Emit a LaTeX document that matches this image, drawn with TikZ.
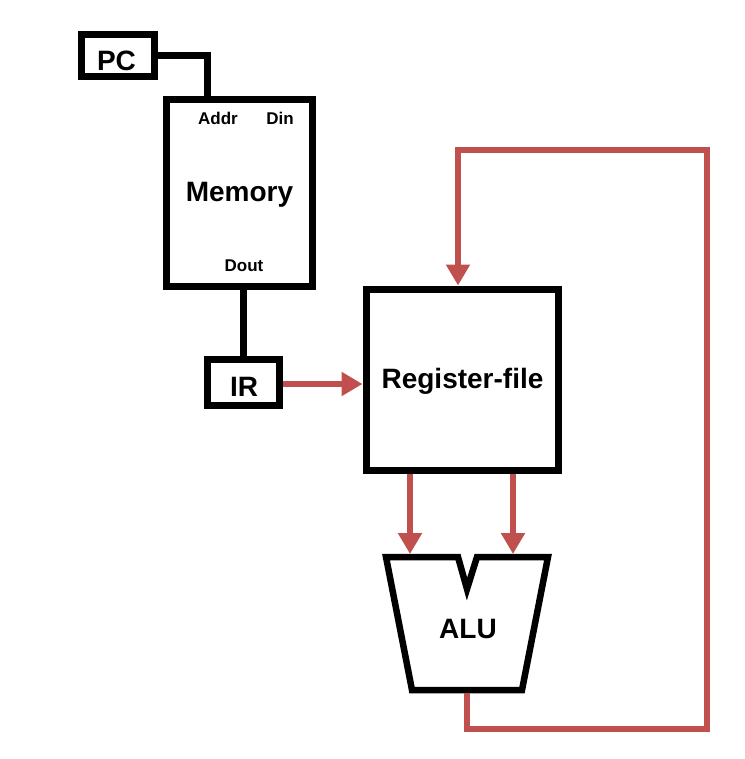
\documentclass[tikz,border=0pt]{standalone}
\usepackage{fontspec}
\setmainfont{Liberation Sans}
\usetikzlibrary{arrows.meta,calc}
\definecolor{rd}{HTML}{C0504D}
\begin{document}
\begin{tikzpicture}[x=1pt,y=-1pt,
  blk/.style={line width=7pt,draw=black},
  box/.style={draw=black,line width=7pt,inner sep=0pt,fill=white},
  big/.style={inner sep=0pt,text height=20pt,text depth=0pt,font=\bfseries\fontsize{28}{30}\selectfont},
  lbl/.style={inner sep=0pt,text height=12.2pt,text depth=0pt,font=\bfseries\fontsize{17}{19}\selectfont},
  rdl/.style={line width=6.5pt,draw=rd},
  rda/.style={rdl,-{Triangle[length=21pt,width=23pt]}},
]
\useasboundingbox (0,0) rectangle (744,759);

% boxes
\node[box,minimum width=73pt,minimum height=42pt] (PC) at (117.5,56) {};
\node[big] (pct) at (116.5,60.5) {PC};
\node[box,minimum width=146pt,minimum height=186pt] (mem) at (239.5,193) {};
\node[big] (memt) at (239.5,192) {Memory};
\node[lbl] (addr) at (218,118.5) {Addr};
\node[lbl] (din) at (280,118.5) {Din};
\node[lbl] (dout) at (244,265.5) {Dout};
\node[box,minimum width=72pt,minimum height=46pt] (IR) at (243,382) {};
\node[big] (irt) at (244,386) {IR};
\node[box,minimum width=192pt,minimum height=181pt] (rf) at (462,379.5) {};
\node[big] (rft) at (462.5,378.5) {Register-file};

% ALU
\draw[line width=6.5pt,line join=miter] (386,557) -- (458,557) -- (467,589) -- (477,557) -- (548,557) -- (522,690) -- (412,690) -- cycle;
\node[big] (alu) at (468,628.5) {ALU};
\coordinate (aluA) at (410,554);
\coordinate (aluB) at (513,554);
\coordinate (aluO) at (467,693);

% black connectors
\draw[blk] (PC.east) -| ([xshift=-32.5pt]mem.north);
\draw[blk] (IR.north |- mem.south) -- (IR.north);

% red connectors
\draw[rda] ([yshift=-2pt]IR.east) -- ([yshift=-2pt]IR.east -| rf.west);
\draw[rda] (aluA |- rf.south) -- (aluA);
\draw[rda] (aluB |- rf.south) -- (aluB);
\draw[rda] (aluO) -- (467,729) -- (707,729) -- (707,150) -- (458,150) -- ([xshift=-4pt]rf.north);
\end{tikzpicture}
\end{document}
